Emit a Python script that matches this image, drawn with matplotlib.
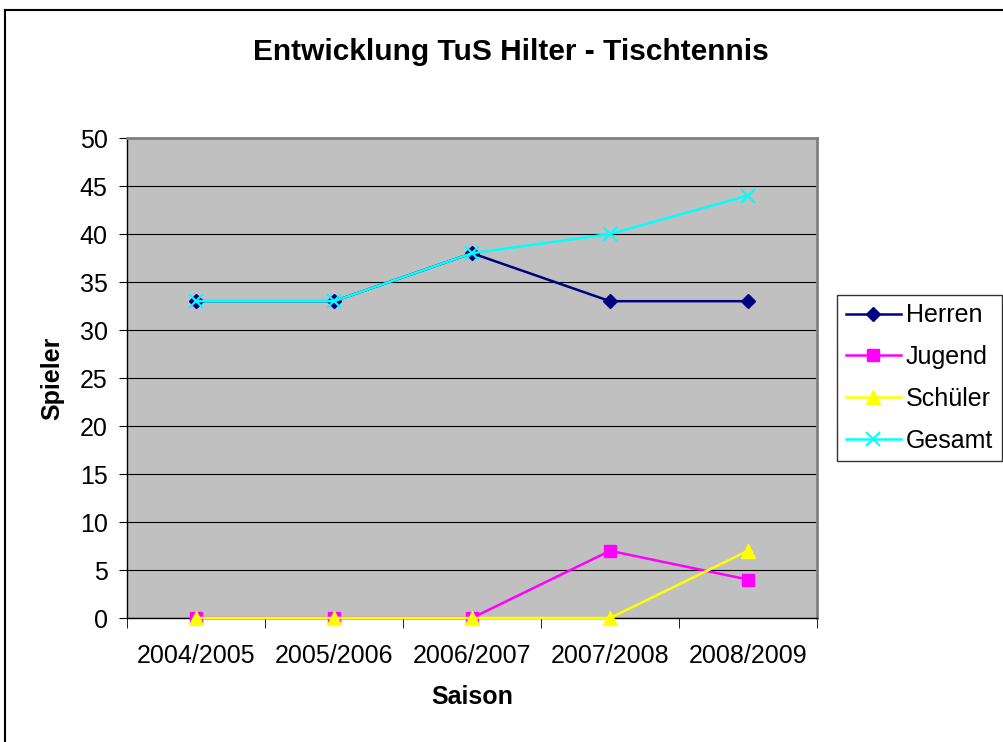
import matplotlib.pyplot as plt
from matplotlib.lines import Line2D

plt.rcParams['font.family'] = ['Liberation Sans', 'DejaVu Sans']

# Daten
saisons = ["2004/2005", "2005/2006", "2006/2007", "2007/2008", "2008/2009"]
herren = [33, 33, 38, 33, 33]
jugend = [0, 0, 0, 7, 4]
schueler = [0, 0, 0, 0, 7]
gesamt = [33, 33, 38, 40, 44]

fig = plt.figure(figsize=(10.04, 7.42), dpi=100)
ax = fig.add_axes([127 / 1004, 1 - 618 / 742, 690 / 1004, 480 / 742])
ax.set_facecolor("#C0C0C0")

x = list(range(len(saisons)))
ax.plot(x, herren, color="#000080", marker="D", markersize=7, lw=1.8, label="Herren", clip_on=False, zorder=3)
ax.plot(x, jugend, color="#FF00FF", marker="s", markersize=8, lw=1.8, label="Jugend", clip_on=False, zorder=3)
ax.plot(x, schueler, color="#FFFF00", marker="^", markersize=10, lw=1.8, label="Schüler", clip_on=False, zorder=3)
ax.plot(x, gesamt, color="#00FFFF", marker="x", markersize=10, mew=1.5, lw=1.8, label="Gesamt", clip_on=False, zorder=3)

ax.set_xlim(-0.5, len(saisons) - 0.5)
ax.set_ylim(0, 50)
ax.set_yticks(range(0, 51, 5))
ax.set_xticks(x)
ax.set_xticklabels(saisons)
ax.set_xticks([i - 0.5 for i in range(len(saisons) + 1)], minor=True)
ax.tick_params(axis="x", which="major", length=0, pad=19, labelsize=18)
ax.tick_params(axis="x", which="minor", length=7, direction="out", color="black")
ax.tick_params(axis="y", length=6, direction="out", labelsize=18, pad=8)
ax.yaxis.grid(True, color="black", lw=0.8)
ax.set_axisbelow(True)

for side in ["top", "right"]:
    ax.spines[side].set_color("#808080")
    ax.spines[side].set_linewidth(2)
for side in ["left", "bottom"]:
    ax.spines[side].set_color("black")
    ax.spines[side].set_linewidth(1)

ax.set_ylabel("Spieler", fontsize=18, fontweight="bold", labelpad=11)
ax.set_xlabel("Saison", fontsize=18, fontweight="bold", labelpad=12)
fig.text(511 / 1004, 1 - 52 / 742, "Entwicklung TuS Hilter - Tischtennis",
         ha="center", va="center", fontsize=21.5, fontweight="bold")

leg = ax.legend(loc="center left", bbox_to_anchor=(837 / 1004, 1 - 378 / 742),
                bbox_transform=fig.transFigure, fontsize=18, frameon=True,
                fancybox=False, edgecolor="black", borderpad=0.35,
                handlelength=2.2, handletextpad=0.2, labelspacing=0.71, borderaxespad=0)
leg.get_frame().set_linewidth(1)

# äußerer Rahmen
fig.add_artist(Line2D([5 / 1004, 5 / 1004], [0, 1 - 10 / 742], color="black", lw=1.5))
fig.add_artist(Line2D([5 / 1004, 1], [1 - 10 / 742, 1 - 10 / 742], color="black", lw=1.5))

plt.savefig("out.png", dpi=100)
